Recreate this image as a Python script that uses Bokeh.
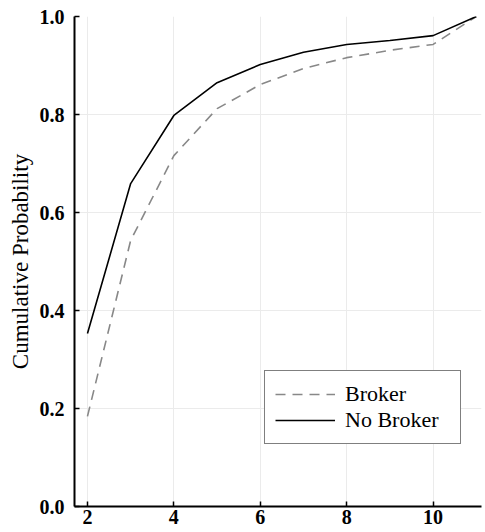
from bokeh.plotting import figure
from bokeh.models import Range1d, Legend, LegendItem, FixedTicker, CustomJSTickFormatter
from bokeh.embed import file_html
from bokeh.resources import INLINE

x_vals = [2, 3, 4, 5, 6, 7, 8, 9, 10, 11]
broker = [0.184, 0.543, 0.716, 0.812, 0.861, 0.894, 0.916, 0.931, 0.943, 1.0]
no_broker = [0.353, 0.659, 0.798, 0.865, 0.902, 0.927, 0.943, 0.951, 0.961, 1.0]
x_ticks = [2, 4, 6, 8, 10]
y_ticks = [0.0, 0.2, 0.4, 0.6, 0.8, 1.0]

FONT = "Liberation Serif"

p = figure(width=485, height=532, output_backend="svg", toolbar_location=None,
           x_range=Range1d(1.70, 11.12), y_range=Range1d(0.0, 1.0),
           min_border_left=74, min_border_right=4, min_border_top=16, min_border_bottom=26)
p.outline_line_color = None
p.background_fill_color = "white"

r1 = p.line(x_vals, broker, line_color="#888888", line_width=1.6, line_dash="10 7")
r2 = p.line(x_vals, no_broker, line_color="black", line_width=1.6)

for ax in (p.xaxis[0], p.yaxis[0]):
    ax.axis_line_color = "black"
    ax.axis_line_width = 2
    ax.major_tick_in = 5
    ax.major_tick_out = 0
    ax.major_tick_line_width = 1.5
    ax.minor_tick_line_color = None
    ax.major_label_text_font = FONT
    ax.major_label_text_font_size = "20px"
    ax.major_label_text_font_style = "bold"
    ax.major_label_text_color = "black"

p.xaxis.ticker = FixedTicker(ticks=x_ticks)
p.yaxis.ticker = FixedTicker(ticks=y_ticks)
p.yaxis.formatter = CustomJSTickFormatter(code="return tick.toFixed(1);")
p.xaxis.major_label_standoff = 3
p.yaxis.major_label_standoff = 10

p.yaxis.axis_label = "Cumulative Probability"
p.yaxis.axis_label_text_font = FONT
p.yaxis.axis_label_text_font_size = "23px"
p.yaxis.axis_label_text_font_style = "normal"
p.yaxis.axis_label_text_color = "black"
p.yaxis.axis_label_standoff = 4

p.xgrid.grid_line_color = "#ebebeb"
p.ygrid.grid_line_color = "#ebebeb"
p.xgrid.grid_line_width = 1
p.ygrid.grid_line_width = 1

legend = Legend(items=[LegendItem(label="Broker", renderers=[r1]),
                       LegendItem(label="No Broker", renderers=[r2])],
                location=(190, 62))
legend.label_text_font = FONT
legend.label_text_font_size = "22px"
legend.label_text_color = "black"
legend.glyph_width = 60
legend.glyph_height = 24
legend.label_height = 24
legend.label_width = 105
legend.label_standoff = 10
legend.padding = 10
legend.spacing = 0
legend.border_line_color = "black"
legend.border_line_width = 1.2
legend.background_fill_alpha = 1
p.add_layout(legend, "center")

open("out.html", "w").write(file_html(p, INLINE))
